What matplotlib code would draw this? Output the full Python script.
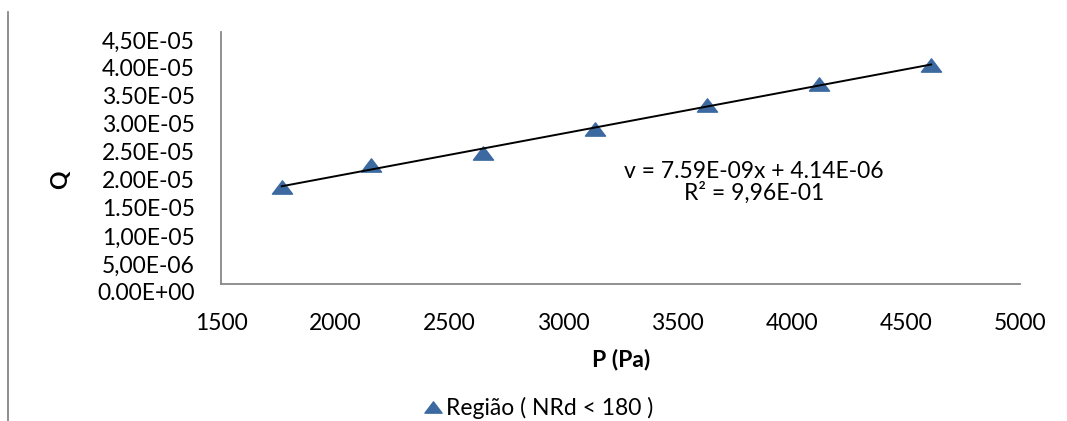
import numpy as np
import matplotlib

matplotlib.use("Agg")
import matplotlib.pyplot as plt
from matplotlib.lines import Line2D
from matplotlib.path import Path
from matplotlib.transforms import ScaledTranslation
from matplotlib.ticker import FixedLocator, FixedFormatter

# data (pressure in Pa, flow Q)
pressure = [1766, 2158, 2649, 3139, 3630, 4120, 4611]
flow = [1.738e-5, 2.125e-5, 2.334e-5, 2.763e-5, 3.197e-5, 3.571e-5, 3.911e-5]

xticks = [1500, 2000, 2500, 3000, 3500, 4000, 4500, 5000]
yticks = [0, 5e-6, 1e-5, 1.5e-5, 2e-5, 2.5e-5, 3e-5, 3.5e-5, 4e-5, 4.5e-5]
ytick_labels = ["0.00E+00", "5,00E-06", "1,00E-05", "1.50E-05", "2.00E-05",
                "2.50E-05", "3.00E-05", "3.50E-05", "4.00E-05", "4,50E-05"]
eq_text = "v = 7.59E-09x + 4.14E-06"
r2_text = "R² = 9,96E-01"
series_label = "Região ( NRd < 180 )"

plt.rcParams["font.family"] = ["Lato", "DejaVu Sans"]
plt.rcParams["font.size"] = 16.5

BLUE = "#3C6AA0"
GRAY = "#878787"
W, H = 1067, 421

# wide, flat triangle like the spreadsheet marker
tri = Path([(-1, -0.66), (1, -0.66), (0, 0.66), (-1, -0.66)],
           [Path.MOVETO, Path.LINETO, Path.LINETO, Path.CLOSEPOLY])

fig = plt.figure(figsize=(W / 100, H / 100), dpi=100)
ax = fig.add_axes([221 / W, 1 - 284 / H, 799 / W, 252 / H])

ax.plot(pressure, flow, linestyle="none", marker=tri, markersize=14.5,
        color=BLUE, label=series_label, zorder=3)

coef = np.polyfit(pressure, flow, 1)
xs = np.array([pressure[0], pressure[-1]])
ax.plot(xs, np.polyval(coef, xs), color="black", lw=1.4, zorder=4)

ax.set_xlim(1500, 5000)
ax.set_ylim(0, 4.5e-5)
ax.xaxis.set_major_locator(FixedLocator(xticks))
ax.xaxis.set_major_formatter(FixedFormatter([str(t) for t in xticks]))
ax.yaxis.set_major_locator(FixedLocator(yticks))
ax.yaxis.set_major_formatter(FixedFormatter(ytick_labels))
ax.tick_params(axis="both", length=0, colors="black", pad=0)

px = lambda n: n / 100
for lab in ax.get_xticklabels():
    lab.set_verticalalignment("center_baseline")
    lab.set_transform(lab.get_transform() + ScaledTranslation(0, -px(38), fig.dpi_scale_trans))
for lab in ax.get_yticklabels():
    lab.set_verticalalignment("center_baseline")
    lab.set_transform(lab.get_transform() + ScaledTranslation(-px(26), -px(8), fig.dpi_scale_trans))

for side in ("top", "right"):
    ax.spines[side].set_visible(False)
for side in ("left", "bottom"):
    ax.spines[side].set_color(GRAY)
    ax.spines[side].set_linewidth(1.3)

ax.set_xlabel("P (Pa)", fontweight="bold", va="center_baseline")
ax.xaxis.set_label_coords((621 - 221) / 799, (284 - 358) / 252)
ax.set_ylabel("Q", fontweight="bold", va="center", ha="center")
ax.yaxis.set_label_coords((61 - 221) / 799, (284 - 180) / 252)

ax.text((754 - 221) / 799, (284 - 169.5) / 252, eq_text, transform=ax.transAxes,
        ha="center", va="center_baseline")
ax.text((754 - 221) / 799, (284 - 191) / 252, r2_text, transform=ax.transAxes,
        ha="center", va="center_baseline")

leg = ax.legend(loc="center left", bbox_to_anchor=(424 / W, 1 - 408 / H),
                bbox_transform=fig.transFigure, frameon=False, markerscale=0.85,
                handlelength=0.75, handletextpad=0.2, borderpad=0, borderaxespad=0)

# thin gray frame edge on the far left of the chart area
fig.add_artist(Line2D([8 / W, 8 / W], [0.0, 1 - 12 / H],
                      transform=fig.transFigure, color=GRAY, lw=1.3))

fig.savefig("out.png", dpi=100)
